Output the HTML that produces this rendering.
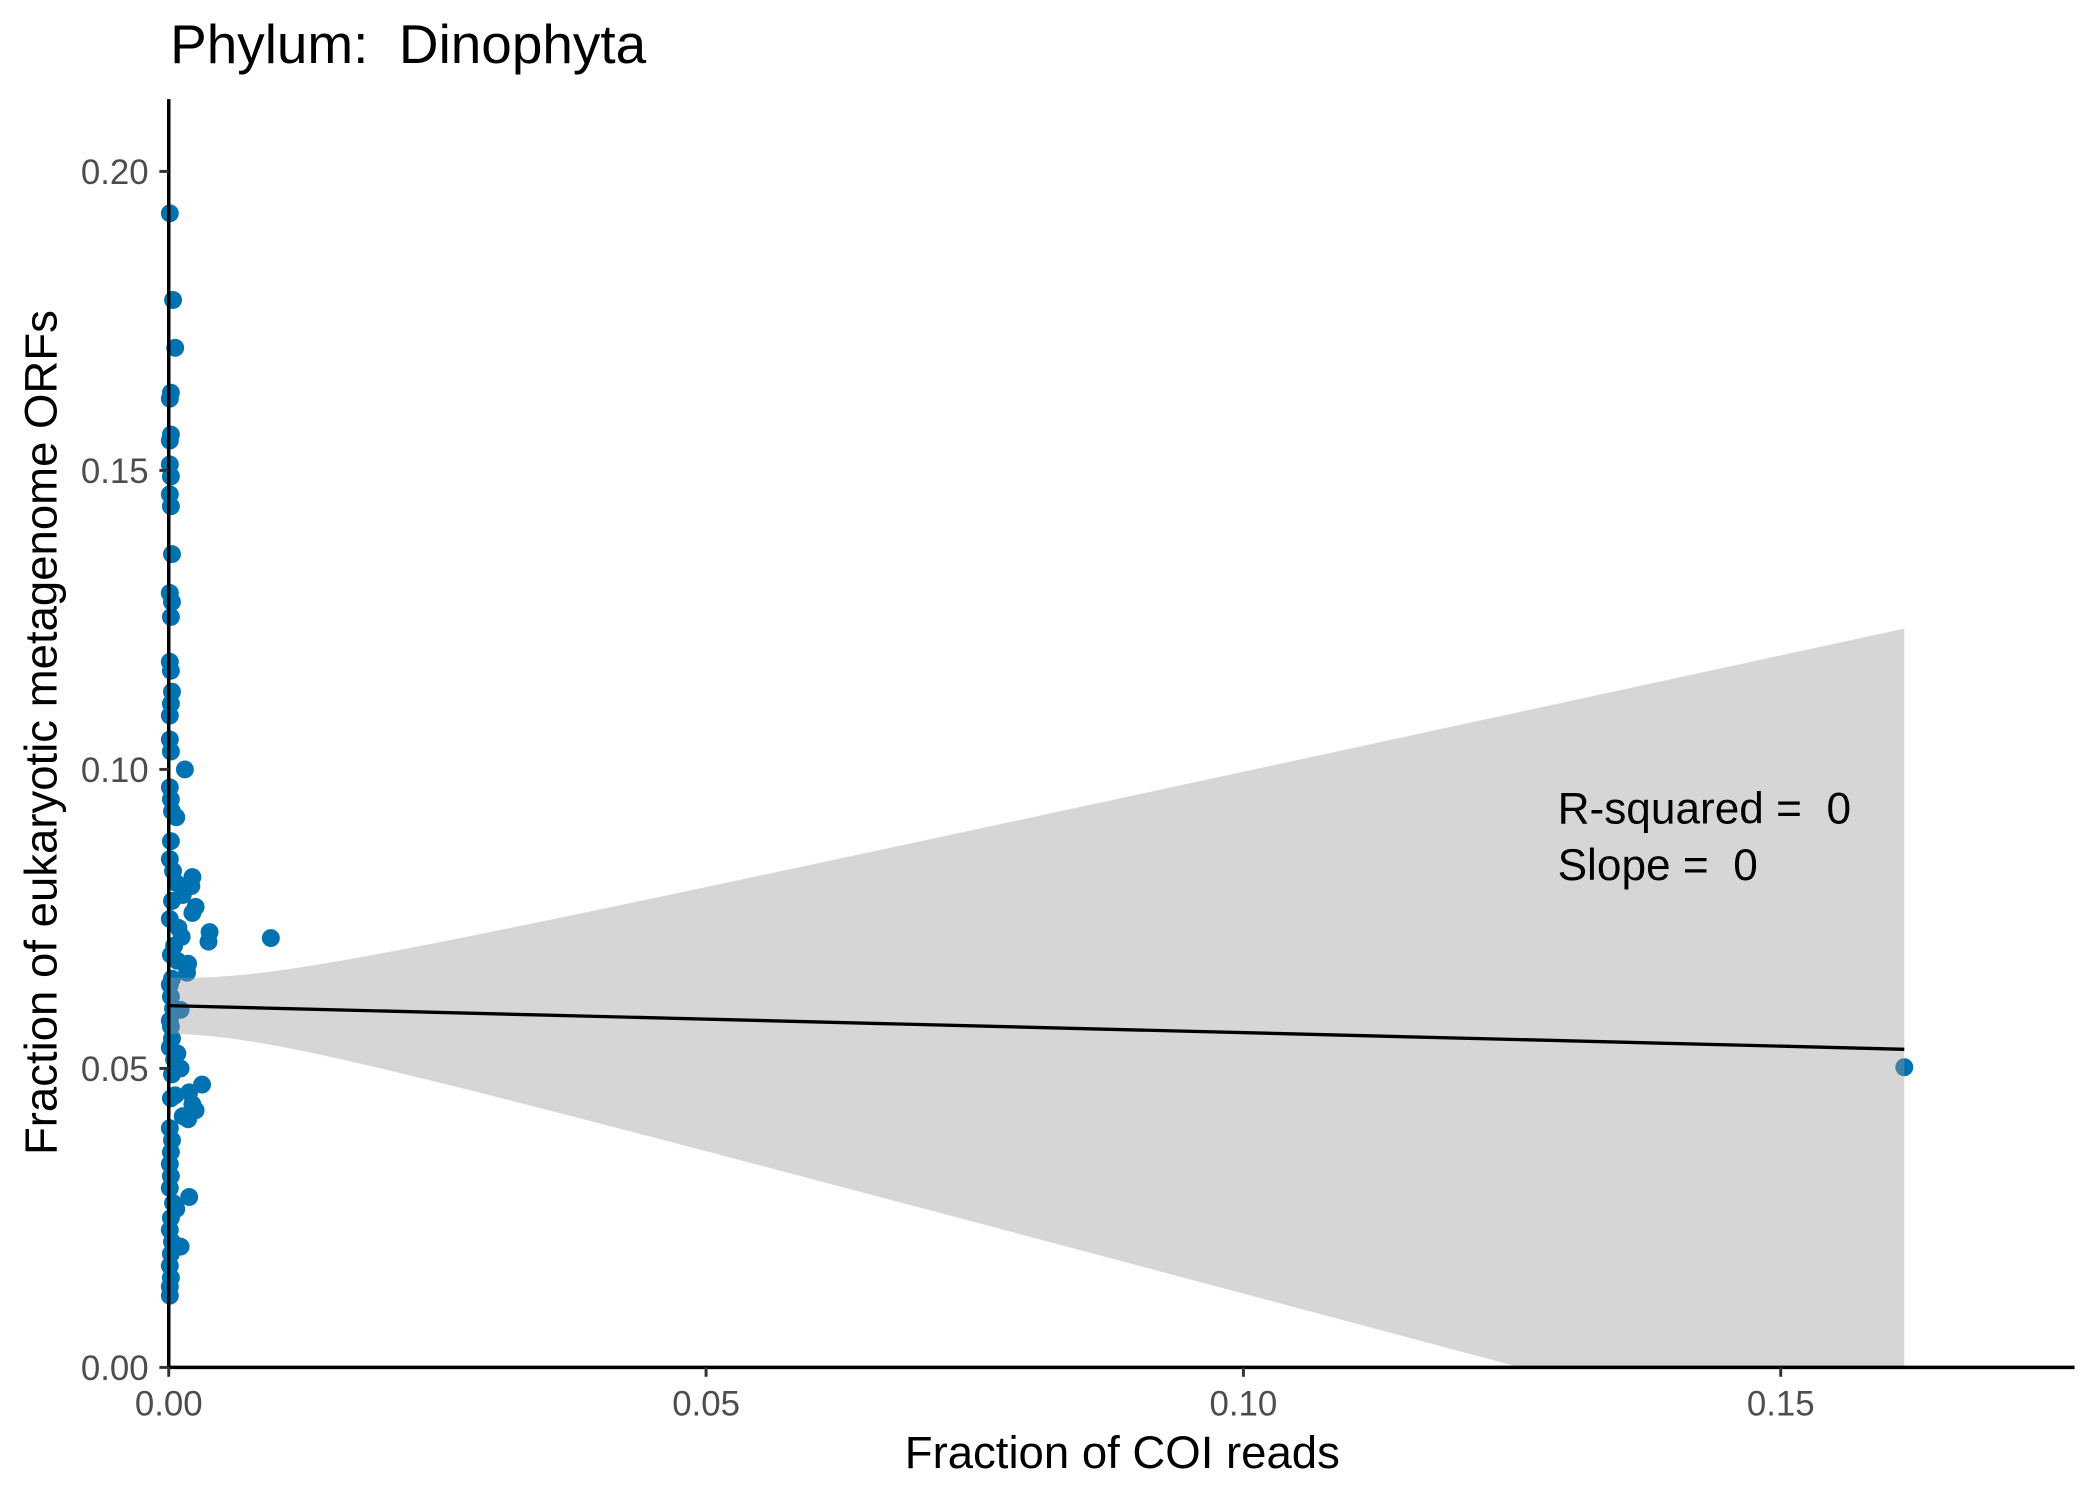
<!DOCTYPE html>
<html><head><meta charset="utf-8"><style>
html,body{margin:0;padding:0;background:#fff;}
svg{display:block;font-family:"Liberation Sans",Arial,sans-serif;}
text{white-space:pre;}
</style></head><body>
<svg id="chart" width="2100" height="1500" viewBox="0 0 1568 1120" xmlns="http://www.w3.org/2000/svg">
<text x="127" y="47" font-size="41" fill="#000">Phylum:&#160; Dinophyta</text>
<g id="plot"></g>
<text x="838" y="1096" font-size="34" fill="#000" text-anchor="middle">Fraction of COI reads</text>
<text transform="translate(42,547) rotate(-90)" font-size="34" fill="#000" text-anchor="middle">Fraction of eukaryotic metagenome ORFs</text>
<text x="1163" y="615" font-size="33" fill="#000">R-squared =&#160; 0</text>
<text x="1163" y="657" font-size="33" fill="#000">Slope =&#160; 0</text>
</svg>
<script>
const xs = [0.0001,0.0004,0.0006,0.0002,0.0001,0.0002,0.0001,0.0001,0.0002,0.0001,0.0002,0.0003,0.0001,0.0003,0.0002,0.0001,0.0002,0.0003,0.0002,0.0001,0.0001,0.0002,0.0015,0.0001,0.0002,0.0003,0.0007,0.0002,0.0001,0.0004,0.0022,0.0007,0.0021,0.0013,0.0003,0.0025,0.0022,0.0001,0.0009,0.0038,0.0095,0.0037,0.0012,0.0005,0.0002,0.0018,0.0008,0.0017,0.0003,0.0001,0.0002,0.0011,0.0004,0.0001,0.0002,0.0003,0.0001,0.0008,0.0005,0.0011,0.0003,0.0031,0.0019,0.0006,0.0002,0.0022,0.0025,0.0013,0.0018,0.0001,0.0003,0.0002,0.0001,0.0002,0.0001,0.0019,0.0004,0.0007,0.0002,0.0001,0.0003,0.0011,0.0002,0.0001,0.0002,0.0001,0.0001,0.1615];
const ys = [0.193,0.1785,0.1705,0.163,0.162,0.156,0.155,0.151,0.149,0.146,0.144,0.136,0.1295,0.128,0.1255,0.118,0.1165,0.113,0.111,0.109,0.105,0.103,0.1,0.097,0.095,0.093,0.092,0.088,0.085,0.083,0.082,0.081,0.0805,0.079,0.078,0.077,0.076,0.075,0.0735,0.0728,0.0718,0.0712,0.072,0.0705,0.069,0.0675,0.068,0.066,0.065,0.064,0.062,0.0598,0.06,0.058,0.057,0.055,0.0535,0.0525,0.0515,0.05,0.049,0.0473,0.046,0.0455,0.045,0.044,0.043,0.042,0.0415,0.040,0.038,0.036,0.034,0.032,0.030,0.0285,0.0275,0.0265,0.025,0.023,0.021,0.0202,0.019,0.017,0.015,0.0135,0.012,0.0502];
const xTicks = [0, 0.05, 0.10, 0.15];
const xTickLabels = ["0.00","0.05","0.10","0.15"];
const yTicks = [0, 0.05, 0.10, 0.15, 0.20];
const yTickLabels = ["0.00","0.05","0.10","0.15","0.20"];
const fitIntercept = 0.0605;
const fitSlope = -0.0452;
const seBase = 0.0047;
const seSpread = 0.436;
const fitXmin = 0, fitXmax = 0.1615;

const NS = "http://www.w3.org/2000/svg";
const L = 126, R = 1549, T = 74, B = 1021;
const xS = v => L + v / 0.05 * 401.2;
const yS = v => B - v / 0.05 * 223.25;
const g = document.getElementById('plot');
function mk(tag, attrs) { const e = document.createElementNS(NS, tag); for (const k in attrs) e.setAttribute(k, attrs[k]); g.appendChild(e); return e; }

const defs = mk('defs', {});
const cp = document.createElementNS(NS, 'clipPath'); cp.setAttribute('id', 'pc');
const cr = document.createElementNS(NS, 'rect'); cr.setAttribute('x', L); cr.setAttribute('y', T); cr.setAttribute('width', R - L); cr.setAttribute('height', B - T);
cp.appendChild(cr); defs.appendChild(cp);

for (let i = 0; i < xs.length; i++) {
  const c = mk('circle', { cx: xS(xs[i]), cy: yS(ys[i]), r: 6.7, fill: '#0072b2' });
  
  
}
const N = 80, up = [], lo = [];
for (let i = 0; i <= N; i++) {
  const x = fitXmin + (fitXmax - fitXmin) * i / N;
  const yh = fitIntercept + fitSlope * x;
  const hw = Math.sqrt(seBase * seBase + seSpread * seSpread * (x - 0.0005) * (x - 0.0005));
  up.push(xS(x) + ',' + yS(yh + hw));
  lo.push(xS(x) + ',' + yS(yh - hw));
}
const rib = mk('polygon', { points: up.concat(lo.reverse()).join(' '), fill: 'rgba(153,153,153,0.4)', 'clip-path': 'url(#pc)' });


const fl = mk('line', { x1: xS(fitXmin), y1: yS(fitIntercept + fitSlope * fitXmin), x2: xS(fitXmax), y2: yS(fitIntercept + fitSlope * fitXmax), stroke: '#000', 'stroke-width': 2.5 });



const ya = mk('line', { x1: L, y1: T, x2: L, y2: B + 1, stroke: '#000', 'stroke-width': 2.6 });


const xa = mk('line', { x1: L - 1, y1: B, x2: R, y2: B, stroke: '#000', 'stroke-width': 2.6 });


xTicks.forEach((v, i) => {
  const t = mk('line', { x1: xS(v), y1: B, x2: xS(v), y2: B + 7, stroke: '#333', 'stroke-width': 2.2 });
  
  
  const tx = mk('text', { x: xS(v), y: B + 36, 'font-size': 26, fill: '#4d4d4d', 'text-anchor': 'middle' });
  tx.textContent = xTickLabels[i];
  
  
});
yTicks.forEach((v, i) => {
  const t = mk('line', { x1: L - 7, y1: yS(v), x2: L, y2: yS(v), stroke: '#333', 'stroke-width': 2.2 });
  
  
  const tx = mk('text', { x: L - 15, y: yS(v) + 9.5, 'font-size': 26, fill: '#4d4d4d', 'text-anchor': 'end' });
  tx.textContent = yTickLabels[i];
  
  
});
</script>
</body></html>
